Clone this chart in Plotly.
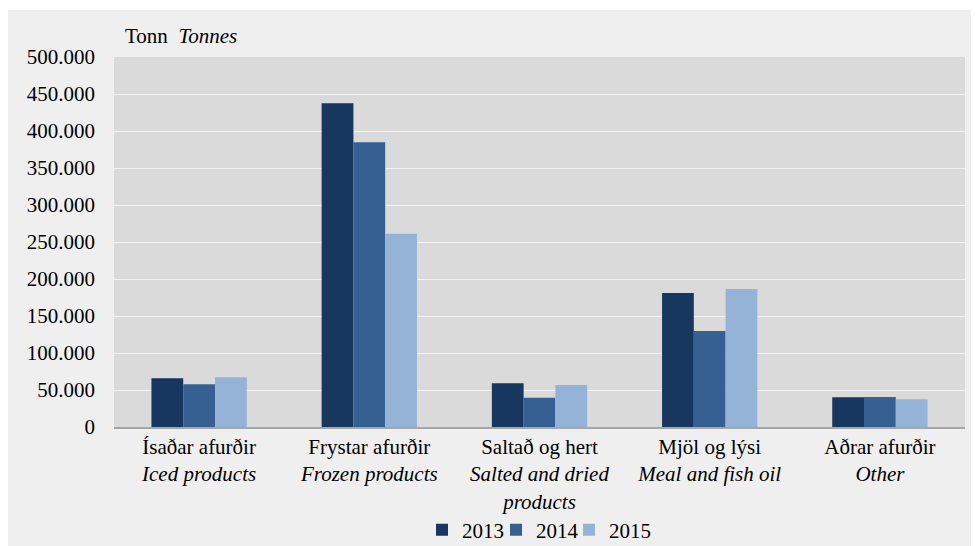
import plotly.graph_objects as go

categories = [
    "Ísaðar afurðir<br><i>Iced products</i>",
    "Frystar afurðir<br><i>Frozen products</i>",
    "Saltað og hert<br><i>Salted and dried</i><br><i>products</i>",
    "Mjöl og lýsi<br><i>Meal and fish oil</i>",
    "Aðrar afurðir<br><i>Other</i>",
]
years = ["2013", "2014", "2015"]
values_2013 = [66000, 437500, 59000, 181000, 40100]
values_2014 = [57800, 384700, 39600, 129800, 40500]
values_2015 = [67200, 261000, 56800, 186500, 37400]
series = [values_2013, values_2014, values_2015]
colors = ["#17375e", "#366092", "#95b3d7"]
tick_vals = list(range(0, 500001, 50000))

FONT = "Liberation Serif"
FS = 21

OFF = 8
W, H = 979 - OFF, 546 - OFF
L, T = 114 - OFF, 57 - OFF
R = W - (965 - OFF)
B = H - (427 - OFF)
pw, ph = W - L - R, H - T - B

def px_x(sx):
    return (sx - OFF - L) / pw

def px_y(sy):
    return (H - B - (sy - OFF)) / ph

legend_ids = ["legend", "legend2", "legend3"]
legend_sq_centers = [442, 516, 589]

fig = go.Figure()
for name, vals, col, lid in zip(years, series, colors, legend_ids):
    fig.add_trace(go.Bar(
        x=categories, y=vals, name=name, legend=lid,
        marker=dict(color=col, line=dict(width=0)),
    ))

legend_layout = {}
for lid, cx in zip(legend_ids, legend_sq_centers):
    legend_layout[lid] = dict(
        orientation="h", x=px_x(cx - 20), xanchor="left",
        y=px_y(530), yanchor="middle",
        font=dict(family=FONT, size=FS, color="#000000"),
        bgcolor="rgba(0,0,0,0)", itemwidth=30,
    )

fig.update_layout(
    width=W, height=H,
    margin=dict(l=L, r=R, t=T, b=B, autoexpand=False),
    paper_bgcolor="white",
    plot_bgcolor="#dadada",
    separators=",.",
    font=dict(family=FONT, size=FS, color="#000000"),
    barmode="group",
    bargap=0.44,
    bargroupgap=0,
    showlegend=True,
    shapes=[
        dict(type="rect", xref="paper", yref="paper", layer="below",
             x0=px_x(8), x1=px_x(990),
             y0=px_y(560), y1=px_y(10),
             fillcolor="#efefef", line=dict(width=0)),
        dict(type="rect", xref="paper", yref="paper", layer="below",
             x0=0, x1=1, y0=0, y1=1,
             fillcolor="#dadada", line=dict(width=0)),
    ],
    annotations=[
        dict(text="Tonn  <i>Tonnes</i>", xref="paper", yref="paper",
             x=px_x(123), y=px_y(36),
             xanchor="left", yanchor="middle", showarrow=False,
             font=dict(family=FONT, size=FS, color="#000000")),
    ],
    **legend_layout,
)

fig.update_yaxes(
    range=[0, 500000], tickvals=tick_vals, tickformat=",d",
    showgrid=True, gridcolor="#f2f2f2", gridwidth=1.3,
    zeroline=False, showline=False, ticks="",
    ticklabelstandoff=18,
    tickfont=dict(family=FONT, size=FS, color="#000000"),
)
fig.update_xaxes(
    showline=True, linecolor="#a6a6a6", linewidth=1.5,
    ticks="", showgrid=False, automargin=False,
    tickfont=dict(family=FONT, size=FS, color="#000000"),
    ticklabelstandoff=0,
)

fig.write_html("out.html")
